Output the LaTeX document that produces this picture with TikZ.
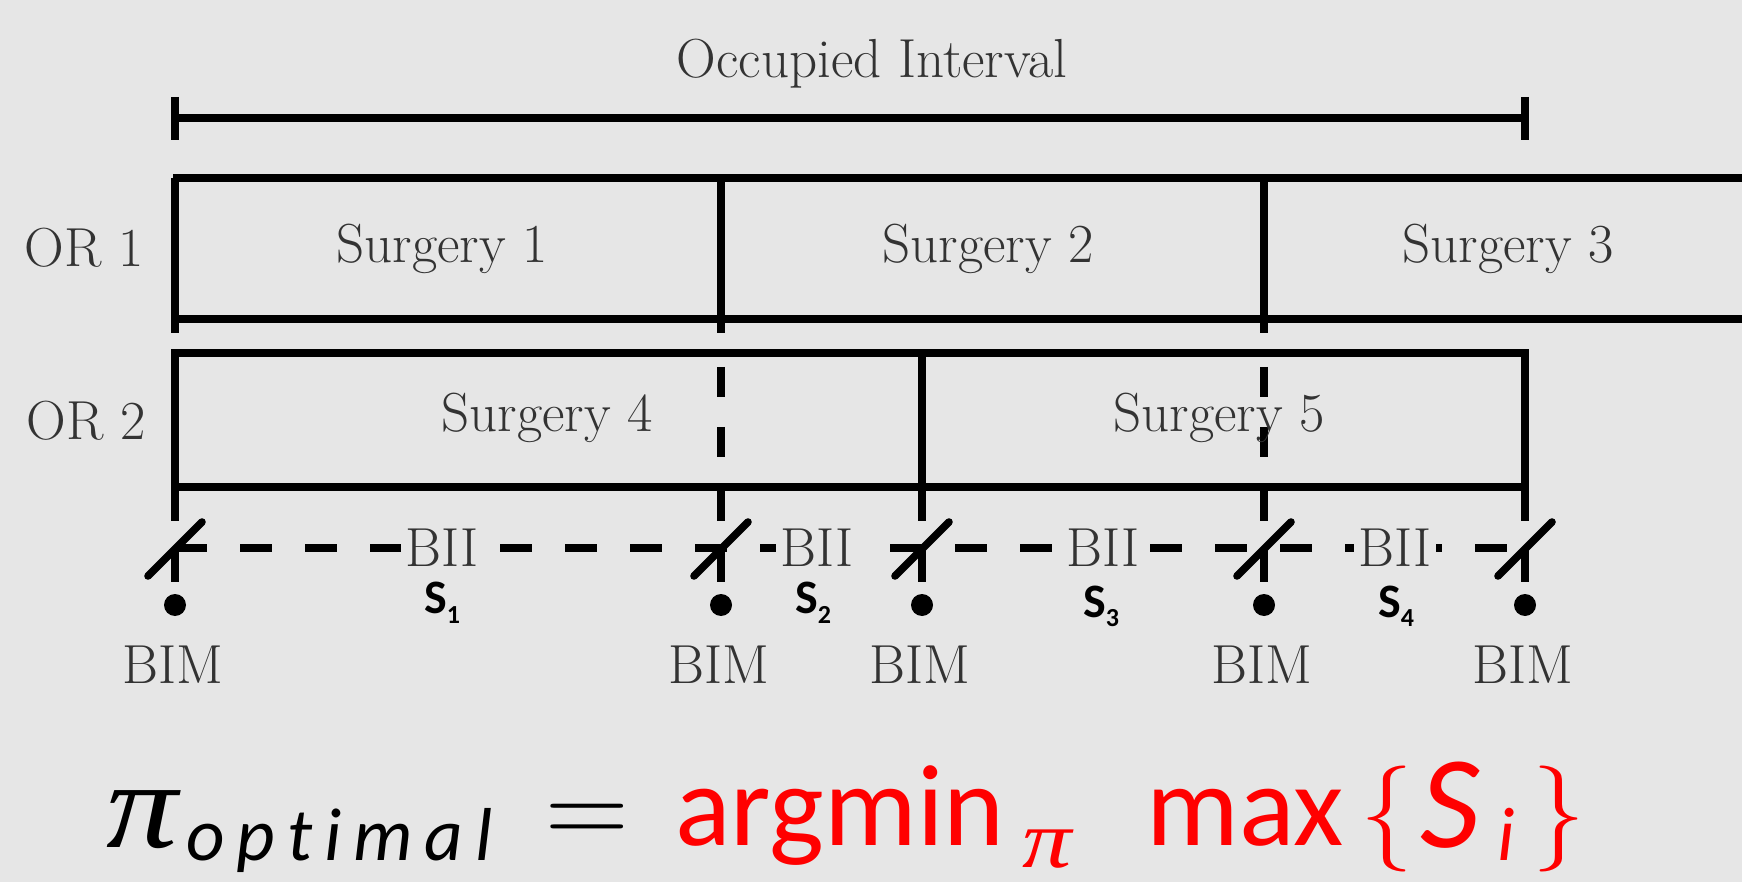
\documentclass[tikz,border=0pt]{standalone}
\usepackage{fontspec}
\usepackage{graphicx}
\newfontfamily\carlito{Carlito}
\newfontfamily\lserif{Liberation Serif}
\definecolor{bg}{HTML}{E6E6E6}
\definecolor{txt}{HTML}{333333}
\definecolor{fred}{HTML}{FF0000}
\begin{document}
\begin{tikzpicture}[x=0.5pt,y=-0.5pt,
  ln/.style={line width=3.8pt},
  dashv/.style={line width=3.8pt, dash pattern=on 15pt off 15pt},
  dashh/.style={line width=3.8pt, dash pattern=on 16pt off 16.5pt},
  lab/.style={text=txt, font=\fontsize{27.5}{32}\selectfont, inner sep=0pt, anchor=base},
  bii/.style={lab, fill=bg, inner xsep=2pt, inner ysep=2pt},
  slab/.style={text=black, font=\carlito\bfseries\fontsize{24}{26}\selectfont, inner sep=0pt, anchor=base},
  big/.style={font=\carlito\fontsize{58}{62}\selectfont, inner sep=0pt, anchor=base west},
  dotm/.style={circle, fill=black, inner sep=0pt, minimum size=11pt}]
\useasboundingbox (0,0) rectangle (1742,882);
\fill[bg] (0,0) rectangle (1742,882);
\clip (0,0) rectangle (1742,882);

% Occupied interval
\node[lab] (occ) at (872,78) {Occupied Interval};
\coordinate (oil) at (175,118);
\coordinate (oir) at (1525,118);
\draw[ln] (oil) -- (oir);
\draw[ln] (175,97) -- (175,140);
\draw[ln] (1525,97) -- (1525,140);

% OR 1
\node[lab] (or1) at (84,267) {OR 1};
\draw[ln] (173.1,178) -- (1770,178);
\draw[ln] (173.1,319) -- (1770,319);
\draw[ln] (175,178) -- (175,333);
\draw[ln] (721,178) -- (721,333);
\draw[ln] (1264,178) -- (1264,333);
\node[lab] (s1) at (442,263) {Surgery 1};
\node[lab] (s2) at (988,263) {Surgery 2};
\node[lab] (s3) at (1508,263) {Surgery 3};

% OR 2
\node[lab] (or2) at (86,440) {OR 2};
\draw[ln] (175,353) rectangle (1525,487);
\draw[ln] (922,353) -- (922,487);
\draw[dashv] (721,367) -- (721,462);
\draw[dashv] (1264,367) -- (1264,462);
\node[lab] (s4) at (547,431) {Surgery 4};
\node[lab] (s5) at (1219,432) {Surgery 5};

% BII dashed line
\coordinate (bl) at (175,548);
\coordinate (br) at (1525,548);
\draw[dashh] (bl) -- (br);

% markers
\foreach \x/\n in {175/a,721/b,922/c,1264/d,1525/e}{
  \draw[ln] (\x,487) -- (\x,521);
  \draw[ln, line cap=round] (\x-27,576) -- (\x+27,522);
  \draw[ln] (\x,548) -- (\x,582);
  \node[dotm] (dot\n) at (\x,605) {};
  \node[lab] (bim\n) at (\x-2,683) {BIM};
}

\node[bii] (bii1) at (442,567) {BII};
\node[bii] (bii2) at (817,567) {BII};
\node[bii] (bii3) at (1103,567) {BII};
\node[bii] (bii4) at (1395,567) {BII};

\node[slab] (sv1) at (442,613) {S\raisebox{-5pt}{\fontsize{13}{13}\selectfont 1}};
\node[slab] (sv2) at (813,613) {S\raisebox{-5pt}{\fontsize{13}{13}\selectfont 2}};
\node[slab] (sv3) at (1101,617) {S\raisebox{-5pt}{\fontsize{13}{13}\selectfont 3}};
\node[slab] (sv4) at (1396,617) {S\raisebox{-5pt}{\fontsize{13}{13}\selectfont 4}};

% formula
\node[big, font=\lserif\itshape\fontsize{62}{64}\selectfont] (fpi) at (106,847) {\scalebox{1.15}[1]{π}};
\node[big, font=\carlito\itshape\fontsize{37.5}{40}\selectfont\addfontfeature{LetterSpace=16,Ligatures=NoCommon}] (fopt) at (186,860) {optimal};
\node[big, font=\fontsize{58}{62}\selectfont] (feq) at (545,845) {=};
\node[big, text=fred] (farg) at (675,845) {argmin};
\node[big, text=fred, font=\lserif\itshape\fontsize{41}{44}\selectfont] (fsub) at (1022,867) {\scalebox{1.2}[1]{π}};
\node[big, text=fred] (fmax) at (1146,845) {max};
\node[big, text=fred, font=\fontsize{53}{56}\selectfont] (flb) at (1360,845) {\{};
\node[big, text=fred, font=\carlito\itshape\fontsize{66}{70}\selectfont] (fS) at (1420,847) {S};
\node[big, text=fred, font=\carlito\itshape\fontsize{38}{40}\selectfont] (fi) at (1497,860) {i};
\node[big, text=fred, font=\fontsize{53}{56}\selectfont] (frb) at (1532,845) {\}};
\end{tikzpicture}
\end{document}
